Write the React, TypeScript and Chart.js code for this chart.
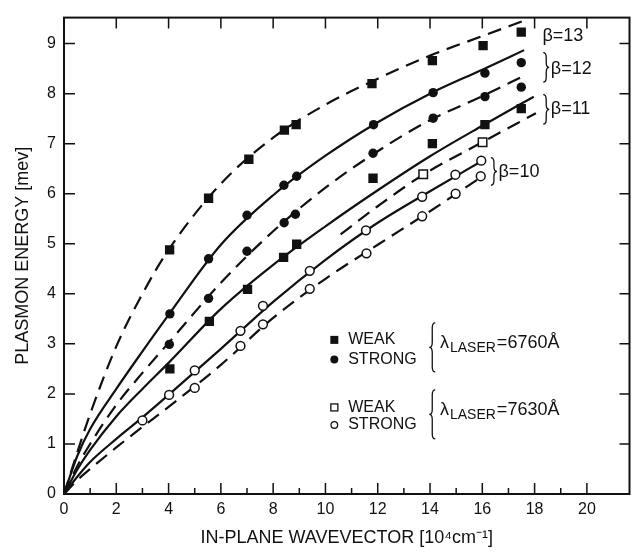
import { useEffect, useRef } from "react";
import { Chart, registerables } from "chart.js";

Chart.register(...registerables);

const FONT = "'Liberation Sans', Arial, sans-serif";
const INK = "#111";

// axis ranges / ticks
const xRange = [0, 21.63];
const yRange = [0, 9.52];
const xTickLabels = [0, 2, 4, 6, 8, 10, 12, 14, 16, 18, 20];
const yTickLabels = [0, 1, 2, 3, 4, 5, 6, 7, 8, 9];

// measured points  [wavevector, energy]
const weak6760: [number, number][] = [
  [4.04, 4.88], [5.53, 5.91], [7.07, 6.69], [8.43, 7.27], [8.88, 7.38], [11.78, 8.2], [14.09, 8.66], [16.03, 8.96], [17.49, 9.23],
  [4.05, 2.5], [5.56, 3.45], [7.02, 4.09], [8.4, 4.73], [8.9, 4.99], [11.82, 6.31], [14.09, 7.0], [16.1, 7.38], [17.49, 7.7],
];
const strong6760: [number, number][] = [
  [4.05, 3.6], [5.53, 4.7], [7.0, 5.57], [8.41, 6.17], [8.9, 6.35], [11.84, 7.38], [14.12, 8.02], [16.1, 8.41], [17.49, 8.62],
  [4.03, 2.99], [5.53, 3.91], [7.0, 4.85], [8.42, 5.42], [8.85, 5.59], [11.82, 6.81], [14.12, 7.51], [16.1, 7.94], [17.49, 8.13],
];
const weak7630: [number, number][] = [[13.74, 6.39], [16.01, 7.03]];
const strong7630: [number, number][] = [
  [3.0, 1.47], [4.02, 1.98], [5.0, 2.47], [6.75, 3.26], [7.61, 3.76], [9.4, 4.46], [11.55, 5.27], [13.7, 5.94], [14.97, 6.38], [15.96, 6.66],
  [5.0, 2.12], [6.75, 2.96], [7.61, 3.39], [9.4, 4.1], [11.57, 4.81], [13.7, 5.55], [14.98, 6.0], [15.94, 6.35],
];

// theory curves
const curveB13Dashed: [number, number][] = [
  [0, 0], [0.5, 0.82], [1, 1.6], [2, 2.95], [3, 4.0], [4, 4.88], [6, 6.2], [8, 7.12], [10, 7.78], [12, 8.3], [14, 8.76], [16, 9.15], [17.7, 9.48],
];
const curveB12Solid: [number, number][] = [
  [0, 0], [0.5, 0.75], [1, 1.3], [2, 2.1], [3, 2.85], [4, 3.58], [6, 4.98], [8, 5.97], [10, 6.76], [12, 7.43], [14, 8.0], [16, 8.48], [17.6, 8.87],
];
const curveB12Dashed: [number, number][] = [
  [0, 0], [0.5, 0.55], [1, 1.0], [2, 1.78], [3, 2.42], [4, 3.02], [6, 4.22], [8, 5.25], [10, 6.12], [12, 6.85], [14, 7.47], [16, 7.95], [17.6, 8.36],
];
const curveB11Solid: [number, number][] = [
  [0, 0], [0.5, 0.48], [1, 0.88], [2, 1.55], [3, 2.1], [4, 2.62], [6, 3.7], [8, 4.58], [10, 5.35], [12, 6.07], [14, 6.75], [16, 7.36], [17.97, 7.94],
];
const curveB11Dashed: [number, number][] = [
  [10.58, 5.19], [12, 5.75], [13.74, 6.38], [16, 7.03], [18.05, 7.61],
];
const curveB10Solid: [number, number][] = [
  [0, 0], [0.5, 0.34], [1, 0.64], [2, 1.1], [3, 1.53], [4, 1.98], [6, 2.9], [8, 3.84], [10, 4.68], [12, 5.42], [14, 6.05], [16, 6.66],
];
const curveB10Dashed: [number, number][] = [
  [0, 0], [0.5, 0.27], [1, 0.5], [2, 0.93], [3, 1.34], [4, 1.74], [6, 2.58], [8, 3.52], [10, 4.3], [12, 4.98], [14, 5.65], [15.95, 6.33],
];

const betaLabels = ["β=13", "β=12", "β=11", "β=10"];
const legendNames = ["WEAK", "STRONG"];
const laserLabels = ["=6760Å", "=7630Å"];

const toXY = (arr: [number, number][]) => arr.map(([x, y]) => ({ x, y }));

function brace(ctx: CanvasRenderingContext2D, x: number, y1: number, y2: number, w: number, dir: number) {
  const ym = (y1 + y2) / 2;
  const r = Math.min(5, (y2 - y1) / 4);
  const xm = x + (dir * w) / 2;
  ctx.beginPath();
  ctx.moveTo(x, y1);
  ctx.quadraticCurveTo(xm, y1, xm, y1 + r);
  ctx.lineTo(xm, ym - r);
  ctx.quadraticCurveTo(xm, ym, x + dir * w, ym);
  ctx.quadraticCurveTo(xm, ym, xm, ym + r);
  ctx.lineTo(xm, y2 - r);
  ctx.quadraticCurveTo(xm, y2, x, y2);
  ctx.stroke();
}

const framePlugin = {
  id: "frame",
  afterDraw(chart: any) {
    const { ctx, chartArea: ca, scales } = chart;
    const xs = scales.x;
    const ys = scales.y;
    const X = (v: number) => xs.getPixelForValue(v);
    const Y = (v: number) => ys.getPixelForValue(v);
    ctx.save();
    ctx.strokeStyle = INK;
    ctx.fillStyle = INK;
    ctx.lineWidth = 2;
    ctx.strokeRect(ca.left, ca.top, ca.right - ca.left, ca.bottom - ca.top);
    ctx.lineWidth = 1.5;
    ctx.beginPath();
    xs.ticks.forEach((t: any) => {
      const v = t.value;
      if (!Number.isInteger(v) || v <= 0) return;
      const px = X(v);
      const major = v % 2 === 0;
      ctx.moveTo(px, ca.bottom);
      ctx.lineTo(px, ca.bottom - (major ? 11 : 6));
      if (major) {
        ctx.moveTo(px, ca.top);
        ctx.lineTo(px, ca.top + 11);
      }
    });
    ys.ticks.forEach((t: any) => {
      const v = t.value;
      if (!Number.isInteger(v) || v <= 0) return;
      const py = Y(v);
      ctx.moveTo(ca.left, py);
      ctx.lineTo(ca.left + 11, py);
      ctx.moveTo(ca.right, py);
      ctx.lineTo(ca.right - 10, py);
    });
    ctx.stroke();

    // beta annotations
    ctx.font = `18px ${FONT}`;
    ctx.textBaseline = "middle";
    ctx.textAlign = "left";
    ctx.fillText(betaLabels[0], X(18.3), Y(9.15));
    ctx.lineWidth = 1.3;
    brace(ctx, X(18.33), Y(8.82), Y(8.23), 6, 1);
    ctx.fillText(betaLabels[1], X(18.62), Y(8.5));
    brace(ctx, X(18.33), Y(7.98), Y(7.39), 6, 1);
    ctx.fillText(betaLabels[2], X(18.62), Y(7.7));
    brace(ctx, X(16.33), Y(6.72), Y(6.17), 6, 1);
    ctx.fillText(betaLabels[3], X(16.62), Y(6.44));

    // legend
    const mx = X(10.34);
    const tx = X(10.87);
    const rows = [Y(3.08), Y(2.69), Y(1.73), Y(1.38)];
    ctx.font = `16px ${FONT}`;
    ctx.lineWidth = 1.3;
    ctx.fillRect(mx - 4, rows[0] - 4, 8, 8);
    ctx.fillText(legendNames[0], tx, rows[0]);
    ctx.beginPath();
    ctx.arc(mx, rows[1], 4, 0, Math.PI * 2);
    ctx.fill();
    ctx.fillText(legendNames[1], tx, rows[1]);
    ctx.strokeRect(mx - 3.5, rows[2] - 3.5, 7, 7);
    ctx.fillText(legendNames[0], tx, rows[2]);
    ctx.beginPath();
    ctx.arc(mx, rows[3], 3.3, 0, Math.PI * 2);
    ctx.stroke();
    ctx.fillText(legendNames[1], tx, rows[3]);

    const bx = X(14.2);
    brace(ctx, bx, Y(3.42), Y(2.44), 6, -1);
    brace(ctx, bx, Y(2.08), Y(1.1), 6, -1);
    const drawLaser = (yc: number, label: string) => {
      let cx = X(14.38);
      ctx.textBaseline = "alphabetic";
      const base = yc + 6;
      ctx.font = `18px ${FONT}`;
      ctx.fillText("λ", cx, base);
      cx += ctx.measureText("λ").width + 1;
      ctx.font = `14px ${FONT}`;
      ctx.fillText("LASER", cx, base + 4);
      cx += ctx.measureText("LASER").width + 1;
      ctx.font = `18px ${FONT}`;
      ctx.fillText(label, cx, base);
      ctx.textBaseline = "middle";
    };
    drawLaser(Y(3.03), laserLabels[0]);
    drawLaser(Y(1.69), laserLabels[1]);
    ctx.restore();
  },
};

export default function App() {
  const ref = useRef<HTMLCanvasElement | null>(null);
  useEffect(() => {
    document.body.style.margin = "0";
    const canvas = ref.current;
    if (!canvas) return;
    const line = (data: [number, number][], dashed: boolean) => ({
      type: "line" as const,
      data: toXY(data),
      showLine: true,
      borderColor: INK,
      borderWidth: 2.2,
      borderDash: dashed ? [14, 8] : [],
      pointRadius: 0,
      fill: false,
      cubicInterpolationMode: "monotone" as const,
      order: 2,
    });
    const chart = new Chart(canvas, {
      type: "scatter",
      data: {
        datasets: [
          { label: "WEAK 6760Å", data: toXY(weak6760), pointStyle: "rect", pointRadius: 6.6, backgroundColor: INK, borderColor: INK, borderWidth: 0, order: 0 },
          { label: "STRONG 6760Å", data: toXY(strong6760), pointStyle: "circle", pointRadius: 4.7, backgroundColor: INK, borderColor: INK, borderWidth: 0, order: 0 },
          { label: "WEAK 7630Å", data: toXY(weak7630), pointStyle: "rect", pointRadius: 6, backgroundColor: "#fff", borderColor: INK, borderWidth: 1.5, order: 0 },
          { label: "STRONG 7630Å", data: toXY(strong7630), pointStyle: "circle", pointRadius: 4.4, backgroundColor: "#fff", borderColor: INK, borderWidth: 1.5, order: 0 },
          { label: "β=13", ...line(curveB13Dashed, true) },
          { label: "β=12 strong", ...line(curveB12Solid, false) },
          { label: "β=12 weak", ...line(curveB12Dashed, true) },
          { label: "β=11 strong", ...line(curveB11Solid, false) },
          { label: "β=11 weak", ...line(curveB11Dashed, true) },
          { label: "β=10 strong", ...line(curveB10Solid, false) },
          { label: "β=10 weak", ...line(curveB10Dashed, true) },
        ] as any,
      },
      options: {
        animation: false,
        responsive: false,
        layout: { padding: { top: 9, right: 2, left: 0, bottom: 0 } },
        plugins: { legend: { display: false }, tooltip: { enabled: false } },
        scales: {
          x: {
            type: "linear",
            min: xRange[0],
            max: xRange[1],
            afterFit: (s: any) => { s.height = 64; },
            grid: { display: false, drawTicks: false },
            border: { display: false },
            ticks: {
              stepSize: 1,
              autoSkip: false,
              maxRotation: 0,
              padding: 6,
              color: INK,
              font: { family: FONT, size: 16 },
              callback: (v: any) => (xTickLabels.includes(v) ? String(v) : ""),
            },
            title: {
              display: true,
              text: "IN-PLANE WAVEVECTOR [10⁴cm⁻¹]",
              color: INK,
              font: { family: FONT, size: 18 },
              padding: { top: 0, bottom: 9 },
            },
          },
          y: {
            type: "linear",
            min: yRange[0],
            max: yRange[1],
            afterFit: (s: any) => { s.width = 64; },
            grid: { display: false, drawTicks: false },
            border: { display: false },
            ticks: {
              stepSize: 1,
              autoSkip: false,
              padding: 8,
              color: INK,
              font: { family: FONT, size: 16 },
              callback: (v: any) => (yTickLabels.includes(v) ? String(v) : ""),
            },
            title: {
              display: true,
              text: "PLASMON ENERGY [mev]",
              color: INK,
              font: { family: FONT, size: 18 },
              padding: { top: 12, bottom: 0 },
            },
          },
        },
      } as any,
      plugins: [framePlugin],
    });
    return () => chart.destroy();
  }, []);
  return (
    <div style={{ width: 637, height: 558 }}>
      <canvas ref={ref} width={637} height={558} style={{ display: "block" }} />
    </div>
  );
}
